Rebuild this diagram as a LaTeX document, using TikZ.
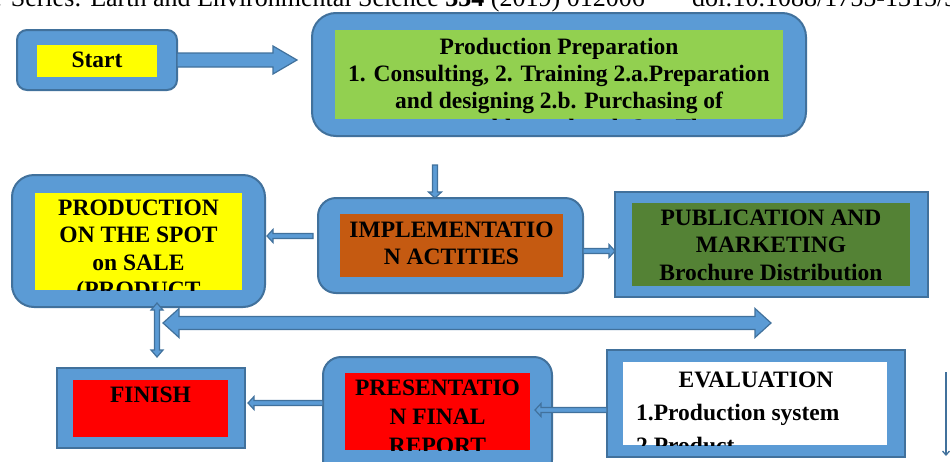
\documentclass[tikz,border=0pt]{standalone}
\usepackage{fontspec}
\setmainfont{Liberation Serif}
\usetikzlibrary{calc,arrows.meta}
\definecolor{boxblue}{HTML}{5B9BD5}
\definecolor{boxline}{HTML}{41719C}
\definecolor{ppgreen}{HTML}{92D050}
\definecolor{implorange}{HTML}{C55A11}
\definecolor{pubgreen}{HTML}{548235}
\definecolor{finred}{HTML}{FF0000}
\definecolor{startyellow}{HTML}{FFFF00}
% box from corners: name, x1, y1, x2, y2, style
\newcommand\rbox[6]{\node[#6, minimum width={#4-#2}, minimum height={#5-#3}] (#1) at ({(#2+#4)/2},{(#3+#5)/2}) {};}
% horizontal block arrow: from, tip, shaft half, head half, signed head length
\newcommand\harr[5]{\filldraw[arrowst] let \p1=(#1), \p2=(#2) in
  (\x1,{\y2+#3}) -- ({\x2-(#5)},{\y2+#3}) -- ({\x2-(#5)},{\y2+#4}) -- (\x2,\y2) --
  ({\x2-(#5)},{\y2-#4}) -- ({\x2-(#5)},{\y2-#3}) -- (\x1,{\y2-#3}) -- cycle;}
% vertical block arrow: from, tip, shaft half, head half, signed head length (positive = down)
\newcommand\varr[5]{\filldraw[arrowst] let \p1=(#1), \p2=(#2) in
  ({\x2-#3},\y1) -- ({\x2-#3},{\y2+(#5)}) -- ({\x2-#4},{\y2+(#5)}) -- (\x2,\y2) --
  ({\x2+#4},{\y2+(#5)}) -- ({\x2+#3},{\y2+(#5)}) -- ({\x2+#3},\y1) -- cycle;}
\newcommand\fs{\rule{0pt}{16pt}}
\begin{document}
\begin{tikzpicture}[x=1pt,y=-1pt,
  outer/.style={draw=boxline, line width=2pt, fill=boxblue, inner sep=0pt, outer sep=0pt},
  innerbox/.style={draw=none, inner sep=0pt, outer sep=0pt},
  lbl/.style={font=\bfseries\fontsize{23.5}{27.5}\selectfont, align=center, inner sep=0pt, anchor=north},
  lblone/.style={font=\bfseries\fontsize{23.5}{27.5}\selectfont, inner sep=0pt},
  hdr/.style={font=\fontsize{26}{30}\selectfont, inner sep=0pt},
  arrowst/.style={fill=boxblue, draw=boxline, line width=1.2pt, line join=miter},
]
\useasboundingbox (0,0) rectangle (950,461);
\clip (0,0) rectangle (950,461);

% header (cut off at the top)
\node[hdr, anchor=base east] (hdrleft) at (645,6) {IOP Conf. Series: Earth and Environmental Science \textbf{334} (2019) 012006};
\node[hdr, anchor=base west] (hdrright) at (692,6) {doi:10.1088/1755-1315/334/1/012006};

% ---- Start
\rbox{start}{17}{30}{177}{90}{outer, rounded corners=10pt}
\rbox{starti}{37}{45}{157}{77}{innerbox, fill=startyellow}
\node[lblone, anchor=base] (startt) at (97,67) {Start};

% ---- Production Preparation
\rbox{pp}{312}{13}{806}{136}{outer, rounded corners=24pt}
\rbox{ppi}{335}{30}{783}{119}{innerbox, fill=ppgreen}
\begin{scope}
\clip (ppi.south west) rectangle (ppi.north east);
\node[lbl, font=\bfseries\fontsize{23.5}{27}\selectfont] (ppt) at (559,38) {\fs Production Preparation\\1. Consulting, 2. Training 2.a.Preparation\\and designing 2.b. Purchasing of\\consumables and tools 2.c. The};
\end{scope}

% ---- Production on the spot
\rbox{pos}{12}{175}{265}{307}{outer, rounded corners=22pt}
\rbox{posi}{35}{193}{242}{290}{innerbox, fill=startyellow}
\begin{scope}
\clip (posi.south west) rectangle (posi.north east);
\node[lbl] (post) at (138.5,199) {\fs PRODUCTION\\ON THE SPOT\\on SALE\\(PRODUCT};
\end{scope}

% ---- Implementation
\rbox{impl}{318}{198}{583}{293}{outer, rounded corners=18pt}
\rbox{impli}{340}{214}{563}{277}{innerbox, fill=implorange}
\node[lbl] (implt) at (451.5,221) {\fs IMPLEMENTATIO\\N ACTITIES};

% ---- Publication
\rbox{pub}{615}{192}{928}{297}{outer}
\rbox{pubi}{632}{203}{910}{286}{innerbox, fill=pubgreen}
\node[lbl] (pubt) at (771,209) {\fs PUBLICATION AND\\MARKETING\\Brochure Distribution};

% ---- Finish
\rbox{fin}{57}{368}{245}{448}{outer}
\rbox{fini}{73}{380}{228}{437}{innerbox, fill=finred}
\node[lblone, anchor=base] (fint) at (150.5,402) {FINISH};

% ---- Presentation
\rbox{pres}{323}{357}{552}{478}{outer, rounded corners=18pt}
\rbox{presi}{345}{373}{530}{450}{innerbox, fill=finred}
\begin{scope}
\clip (presi.south west) rectangle (presi.north east);
\node[lbl, font=\bfseries\fontsize{23.5}{29}\selectfont] (prest) at (437.5,379) {\fs PRESENTATIO\\N FINAL\\REPORT};
\end{scope}

% ---- Evaluation
\rbox{eval}{607}{350}{905}{457}{outer}
\rbox{evali}{623}{362}{887}{445}{innerbox, fill=white}
\begin{scope}
\clip (evali.south west) rectangle (evali.north east);
\node[lblone, anchor=base] (evalt) at (756,387) {EVALUATION};
\node[lblone, anchor=base west] (evalt2) at (636,420) {1.Production system};
\node[lblone, anchor=base west] (evalt3) at (636,453) {2.Product};
\end{scope}

% ---- connectors
\coordinate (a1t) at (297,60);
\harr{start.east}{a1t}{7pt}{14pt}{24pt}

\coordinate (a2s) at (435,165);
\coordinate (a2t) at (435,198);
\varr{a2s}{a2t}{2.5pt}{6.5pt}{6pt}

\coordinate (a3s) at (313,236);
\coordinate (a3t) at (267,236);
\harr{a3s}{a3t}{2.5pt}{6.5pt}{-6pt}

\coordinate (a4s) at (583,251);
\coordinate (a4t) at (615,251);
\harr{a4s}{a4t}{2.5pt}{6.5pt}{6pt}

% big double arrow
\coordinate (bl) at (163,323);
\coordinate (br) at (771,323);
\filldraw[arrowst] let \p1=(bl), \p2=(br) in
  (\x1,\y1) -- ({\x1+16pt},{\y1+14.5pt}) -- ({\x1+16pt},{\y1+6.5pt}) -- ({\x2-16pt},{\y1+6.5pt}) --
  ({\x2-16pt},{\y1+14.5pt}) -- (\x2,\y1) -- ({\x2-16pt},{\y1-14.5pt}) -- ({\x2-16pt},{\y1-6.5pt}) --
  ({\x1+16pt},{\y1-6.5pt}) -- ({\x1+16pt},{\y1-14.5pt}) -- cycle;

% production on the spot <-> finish
\coordinate (vt) at (157,303);
\coordinate (vb) at (157,357);
\filldraw[arrowst] let \p1=(vt), \p2=(vb) in
  (\x1,\y1) -- ({\x1+6pt},{\y1-7pt}) -- ({\x1+2.5pt},{\y1-7pt}) -- ({\x1+2.5pt},{\y2+7pt}) --
  ({\x1+6pt},{\y2+7pt}) -- (\x1,\y2) -- ({\x1-6pt},{\y2+7pt}) -- ({\x1-2.5pt},{\y2+7pt}) --
  ({\x1-2.5pt},{\y1-7pt}) -- ({\x1-6pt},{\y1-7pt}) -- cycle;

\coordinate (a5s) at (323,403);
\coordinate (a5t) at (248,403);
\harr{a5s}{a5t}{2.5pt}{6.5pt}{-6pt}

\coordinate (a6s) at (607,410);
\coordinate (a6t) at (535,410);
\harr{a6s}{a6t}{2.5pt}{6.5pt}{-6pt}

% partial arrow at the right edge
\coordinate (rs) at (946,372);
\coordinate (rt) at (946,456);
\draw[boxline, line width=1.3pt, -{Straight Barb[length=4pt,width=7pt]}] (rs) -- (rt);
\end{tikzpicture}
\end{document}
